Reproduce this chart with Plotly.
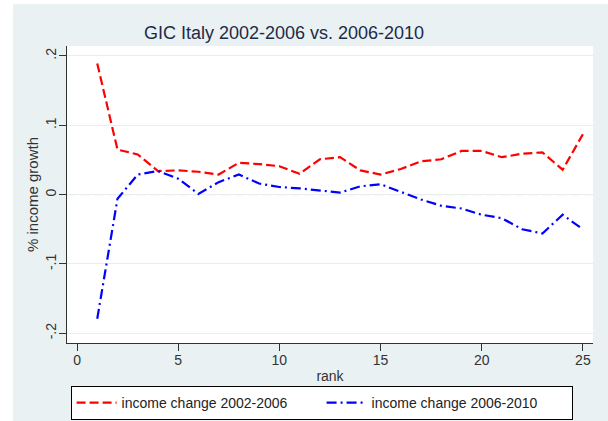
import plotly.graph_objects as go

# Growth incidence curves for Italy, by income rank
rank = list(range(1, 26))
growth_2002_2006 = [0.189, 0.065, 0.058, 0.034, 0.035, 0.033, 0.029, 0.046, 0.044, 0.041,
                    0.030, 0.051, 0.054, 0.035, 0.029, 0.037, 0.048, 0.051, 0.063, 0.063,
                    0.054, 0.059, 0.061, 0.036, 0.087]
growth_2006_2010 = [-0.179, -0.006, 0.029, 0.034, 0.023, 0.001, 0.018, 0.029, 0.016, 0.011,
                    0.009, 0.006, 0.003, 0.012, 0.015, 0.004, -0.007, -0.016, -0.020, -0.029,
                    -0.034, -0.050, -0.056, -0.029, -0.050]

y_ticks = [-0.2, -0.1, 0, 0.1, 0.2]
y_tick_labels = ["-.2", "-.1", "0", ".1", ".2"]
x_ticks = [0, 5, 10, 15, 20, 25]

BG = "#eaf1f3"
FONT = "Liberation Sans, Arial, sans-serif"

fig = go.Figure()
fig.add_trace(go.Scatter(
    x=rank, y=growth_2002_2006, mode="lines", name="income change 2002-2006",
    line=dict(color="#ff0000", width=2.2, dash="9px,4px"),
))
fig.add_trace(go.Scatter(
    x=rank, y=growth_2006_2010, mode="lines", name="income change 2006-2010",
    line=dict(color="#0000ff", width=2.2, dash="10px,4px,2px,4px"),
))

# reference line at zero growth
fig.add_shape(type="line", xref="paper", x0=0, x1=1, yref="y", y0=0, y1=0,
              line=dict(color="#b2d8aa", width=1, dash="9px,5px"), layer="below")

# white page strips at the left and top edges
fig.add_shape(type="rect", xref="paper", yref="paper", x0=-0.2, x1=(13 - 67) / 526,
              y0=-0.4, y1=1.3, fillcolor="white", line=dict(width=0), layer="below")
fig.add_shape(type="rect", xref="paper", yref="paper", x0=-0.2, x1=1.2,
              y0=(343 - 4) / 297, y1=1.3, fillcolor="white", line=dict(width=0), layer="below")

fig.update_layout(
    width=608, height=421,
    margin=dict(l=67, r=15, t=46, b=78, autoexpand=False),
    paper_bgcolor=BG, plot_bgcolor="white",
    font=dict(family=FONT, size=14, color="#333333"),
    title=dict(text="GIC Italy 2002-2006 vs. 2006-2010", x=284 / 608, xanchor="center",
               y=1 - 33 / 421, yanchor="middle",
               font=dict(family=FONT, size=18, color="#1c2a48")),
    showlegend=True,
    legend=dict(orientation="h", x=0.484, xanchor="center",
                yref="container", y=1 / 421, yanchor="bottom",
                bgcolor="white", bordercolor="#000000", borderwidth=1,
                font=dict(family=FONT, size=14, color="#222222"),
                itemwidth=40, entrywidth=195),
)

fig.update_xaxes(
    range=[-0.495, 25.5], tickvals=x_ticks, showgrid=False, zeroline=False,
    showline=True, linecolor="#333333", linewidth=1,
    ticks="outside", ticklen=7, tickcolor="#333333", ticklabelstandoff=-3,
    tickfont=dict(size=14, color="#333333"),
    title=dict(text="rank", standoff=4, font=dict(size=14, color="#333333")),
)
fig.update_yaxes(
    range=[-0.214, 0.2144], tickvals=y_ticks, ticktext=y_tick_labels, tickangle=-90,
    showgrid=True, gridcolor="#e8eeee", gridwidth=1, zeroline=False,
    showline=True, linecolor="#333333", linewidth=1,
    ticks="outside", ticklen=7, tickcolor="#333333", ticklabelstandoff=-3,
    tickfont=dict(size=14, color="#333333"),
    title=dict(text="% income growth", standoff=1, font=dict(size=15, color="#333333")),
)

fig.write_html("out.html")
